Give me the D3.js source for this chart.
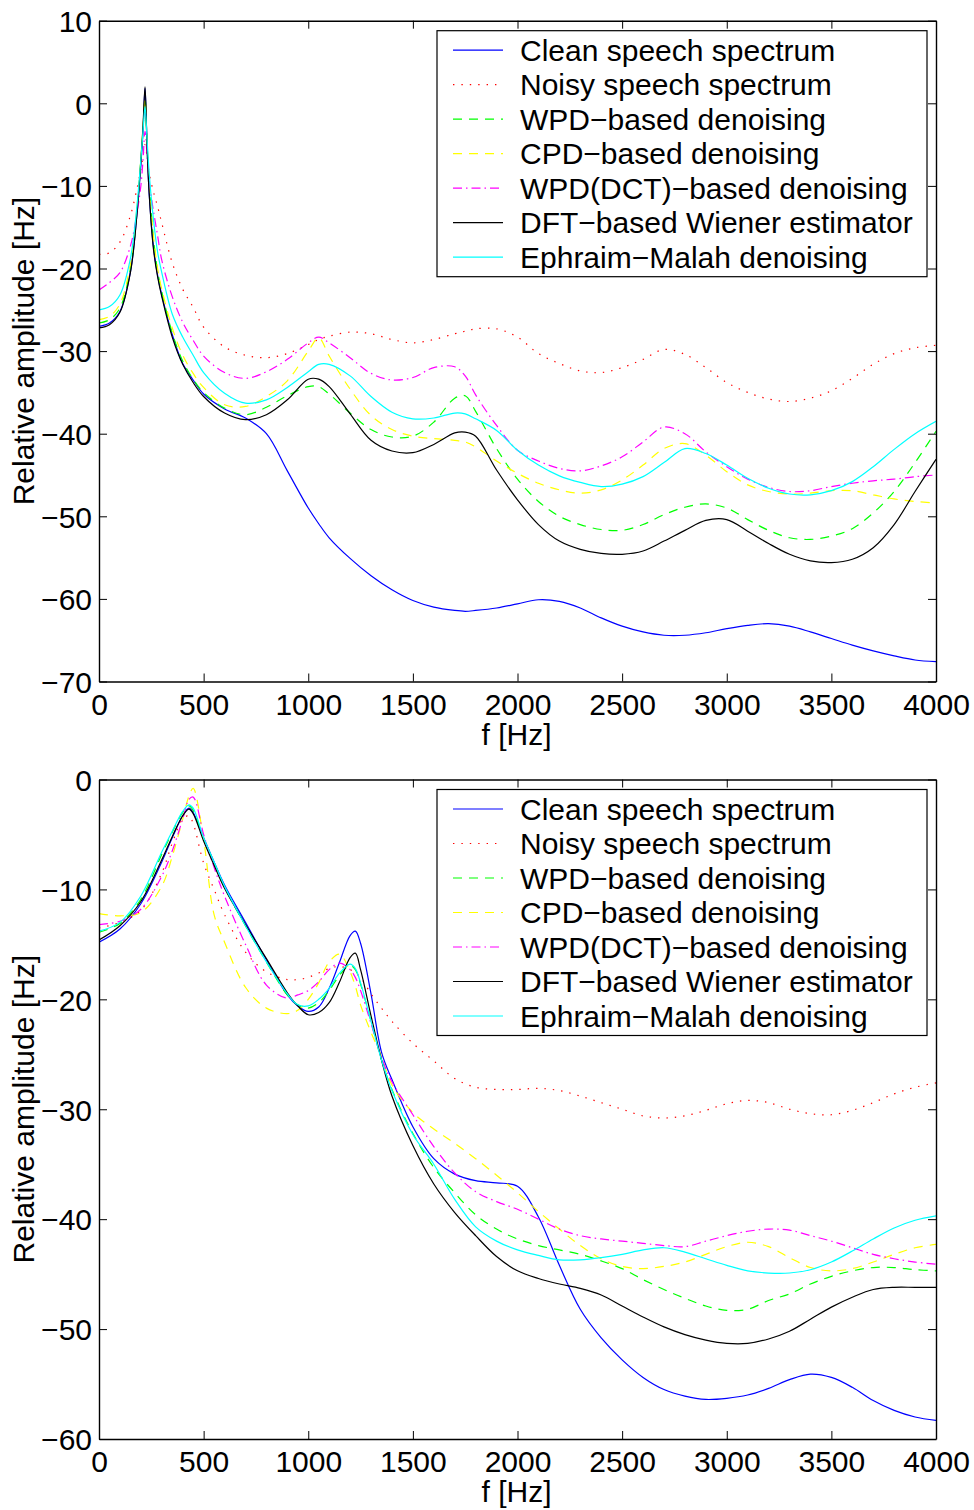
<!DOCTYPE html>
<html><head><meta charset="utf-8">
<script src="https://cdn.jsdelivr.net/npm/d3@7"></script>
<style>
body{margin:0;background:#fff}
svg text{font-family:"Liberation Sans",Arial,Helvetica,sans-serif;font-size:30px;fill:#000}
</style>
</head><body>
<svg id="chart" width="974" height="1510"></svg>
<script>
// ---------- DATA ----------
const seriesNames = ["Clean speech spectrum","Noisy speech spectrum","WPD\u2212based denoising","CPD\u2212based denoising","WPD(DCT)\u2212based denoising","DFT\u2212based Wiener estimator","Ephraim\u2212Malah denoising"];
const xTickValues = [0,500,1000,1500,2000,2500,3000,3500,4000];
const yTickValuesTop = [10,0,-10,-20,-30,-40,-50,-60,-70];
const yTickValuesBottom = [0,-10,-20,-30,-40,-50,-60];

const freqTop = [0,50,100,150,180,200,210,220,230,240,260,280,300,350,400,450,500,600,700,800,900,1000,1050,1100,1200,1300,1400,1500,1600,1700,1750,1800,1900,2000,2100,2200,2300,2400,2500,2600,2700,2800,2900,3000,3100,3200,3300,3400,3500,3600,3700,3800,3900,4000];
const cleanTop = [-27.0,-26.6,-25.2,-20.4,-13.8,-7.5,-3.5,1.8,-5.5,-11.0,-17.3,-20.8,-23.2,-28.0,-31.5,-33.5,-35.2,-37.0,-38.1,-40.0,-44.5,-49.0,-50.9,-52.6,-55.1,-57.2,-58.9,-60.2,-61.0,-61.4,-61.5,-61.4,-61.1,-60.6,-60.1,-60.3,-61.1,-62.3,-63.3,-64.0,-64.4,-64.4,-64.1,-63.6,-63.2,-63.0,-63.3,-64.0,-64.8,-65.6,-66.3,-66.9,-67.4,-67.6];
const noisyTop = [-18.3,-18.1,-16.8,-13.6,-10.5,-8.0,-6.5,-5.0,-6.5,-8.5,-10.7,-12.5,-14.5,-19.3,-22.5,-24.7,-27.1,-29.5,-30.5,-30.8,-30.3,-29.2,-28.6,-28.2,-27.7,-27.9,-28.6,-29.0,-28.6,-27.9,-27.6,-27.3,-27.3,-28.3,-30.3,-31.5,-32.4,-32.6,-32.0,-31.0,-29.8,-30.4,-32.0,-33.8,-35.0,-35.8,-36.1,-35.7,-34.8,-33.3,-31.6,-30.3,-29.6,-29.3];
const wpdTop = [-26.6,-26.2,-24.8,-20.0,-13.5,-7.0,-3.5,0.5,-5.0,-9.8,-16.3,-20.3,-22.8,-27.8,-31.2,-33.4,-35.0,-36.9,-37.7,-36.8,-35.4,-34.3,-34.3,-35.2,-37.5,-39.5,-40.4,-40.3,-38.6,-35.7,-35.4,-37.3,-41.8,-45.5,-48.2,-50.0,-51.0,-51.6,-51.7,-51.0,-49.8,-48.9,-48.5,-49.0,-50.4,-51.7,-52.6,-52.8,-52.4,-51.5,-49.6,-47.0,-43.5,-39.7];
const cpdTop = [-26.2,-25.8,-24.3,-19.5,-13.0,-6.5,-3.0,0.5,-5.0,-9.5,-16.0,-20.0,-22.5,-27.2,-30.5,-32.7,-34.4,-36.5,-36.7,-35.5,-33.6,-30.0,-28.4,-30.6,-34.6,-37.8,-39.5,-40.3,-40.6,-40.8,-41.0,-41.6,-43.3,-44.8,-46.0,-46.8,-47.2,-46.8,-45.6,-43.8,-41.8,-41.2,-42.6,-44.6,-46.2,-47.0,-47.3,-47.2,-46.9,-46.9,-47.4,-47.9,-48.2,-48.4];
const wpdDctTop = [-22.6,-21.7,-20.5,-17.3,-13.5,-10.0,-7.0,-3.4,-6.5,-9.5,-13.0,-16.0,-19.0,-23.4,-26.5,-28.7,-30.6,-32.6,-33.3,-32.5,-31.0,-29.0,-28.3,-29.0,-30.8,-32.7,-33.5,-33.2,-32.0,-31.9,-33.0,-35.3,-39.0,-42.0,-43.3,-44.2,-44.5,-43.9,-42.8,-41.0,-39.2,-40.0,-42.2,-44.0,-45.5,-46.5,-47.0,-46.9,-46.4,-46.0,-45.7,-45.5,-45.2,-45.0];
const dftTop = [-27.2,-26.8,-25.3,-20.5,-13.8,-7.0,-3.0,2.0,-5.5,-11.0,-17.6,-21.0,-23.4,-28.3,-31.6,-33.8,-35.5,-37.5,-38.3,-37.7,-35.9,-33.4,-33.4,-34.3,-37.6,-40.8,-42.1,-42.3,-41.3,-39.9,-39.8,-40.3,-44.4,-48.0,-51.0,-53.0,-54.0,-54.5,-54.6,-54.2,-53.0,-51.7,-50.5,-50.4,-51.8,-53.3,-54.6,-55.4,-55.6,-55.2,-53.8,-51.0,-47.0,-43.1];
const emTop = [-25.0,-24.6,-23.2,-18.8,-12.8,-6.8,-3.5,-0.4,-4.5,-8.5,-14.0,-18.0,-20.5,-25.5,-28.3,-30.5,-32.6,-35.1,-36.3,-35.9,-34.4,-32.5,-31.6,-31.6,-33.0,-35.5,-37.4,-38.2,-38.1,-37.5,-37.6,-38.2,-39.6,-42.0,-43.8,-45.1,-45.9,-46.4,-46.1,-45.2,-43.5,-41.8,-42.4,-43.8,-45.4,-46.6,-47.3,-47.4,-46.9,-45.8,-44.0,-41.9,-40.0,-38.5];

const freqBottom = [0,100,200,300,350,400,430,450,500,550,600,700,800,900,950,1000,1050,1100,1150,1200,1225,1250,1300,1350,1400,1500,1600,1700,1800,1900,2000,2100,2200,2300,2400,2500,2600,2700,2800,2900,3000,3100,3200,3300,3400,3500,3600,3700,3800,3900,4000];
const cleanBottom = [-14.8,-13.6,-11.3,-7.5,-5.3,-3.3,-2.6,-3.0,-5.3,-7.5,-9.6,-13.0,-16.4,-19.6,-20.6,-21.1,-20.7,-19.0,-16.6,-14.2,-13.8,-14.9,-19.5,-24.8,-27.3,-31.6,-34.5,-35.9,-36.5,-36.7,-37.0,-39.8,-44.2,-48.2,-50.8,-52.8,-54.4,-55.5,-56.1,-56.4,-56.3,-56.0,-55.4,-54.6,-54.1,-54.4,-55.3,-56.5,-57.4,-58.0,-58.3];
const noisyBottom = [-13.5,-13.0,-11.9,-8.5,-5.8,-3.6,-3.3,-4.0,-7.6,-10.0,-12.3,-15.7,-17.5,-18.2,-18.2,-18.0,-17.6,-17.2,-17.0,-17.3,-17.6,-18.0,-19.5,-20.8,-22.0,-24.0,-25.6,-27.2,-28.0,-28.2,-28.2,-28.1,-28.3,-28.8,-29.4,-30.0,-30.6,-30.8,-30.6,-30.1,-29.5,-29.2,-29.4,-30.0,-30.4,-30.5,-30.1,-29.4,-28.6,-28.0,-27.6];
const wpdBottom = [-13.9,-13.1,-10.9,-6.8,-4.8,-3.0,-2.4,-2.8,-5.4,-7.6,-9.8,-13.3,-16.6,-19.6,-20.5,-20.8,-20.3,-19.2,-17.8,-16.9,-17.3,-18.6,-22.0,-25.5,-28.2,-32.2,-35.3,-37.6,-39.6,-40.9,-41.8,-42.4,-42.8,-43.2,-43.8,-44.5,-45.5,-46.4,-47.2,-47.9,-48.3,-48.2,-47.4,-46.8,-45.9,-45.2,-44.7,-44.4,-44.4,-44.6,-44.7];
const cpdBottom = [-12.2,-12.4,-12.1,-9.7,-7.0,-3.6,-1.5,-0.8,-5.5,-12.3,-14.8,-18.9,-20.8,-21.3,-21.0,-20.0,-18.5,-16.6,-15.9,-17.5,-18.8,-20.5,-23.0,-25.2,-27.8,-30.3,-31.8,-33.1,-34.5,-36.0,-37.6,-39.3,-40.9,-42.4,-43.6,-44.3,-44.5,-44.3,-43.9,-43.2,-42.5,-42.1,-42.5,-43.5,-44.4,-44.7,-44.5,-43.9,-43.2,-42.6,-42.3];
const wpdDctBottom = [-13.2,-12.9,-11.8,-8.8,-6.5,-3.6,-1.8,-1.6,-5.0,-8.0,-10.6,-15.0,-18.7,-19.9,-19.6,-19.2,-18.4,-17.3,-16.7,-17.3,-18.0,-19.2,-22.2,-25.3,-27.5,-30.5,-33.4,-35.8,-37.5,-38.4,-39.1,-40.0,-40.9,-41.5,-41.8,-42.0,-42.2,-42.4,-42.5,-42.0,-41.5,-41.1,-40.9,-41.0,-41.5,-42.0,-42.6,-43.2,-43.6,-43.9,-44.1];
const dftBottom = [-14.6,-13.3,-11.1,-7.3,-5.2,-3.3,-2.7,-3.1,-5.6,-7.8,-9.9,-13.2,-16.3,-19.4,-20.6,-21.4,-21.2,-20.3,-18.4,-16.2,-15.8,-17.3,-21.5,-25.5,-28.8,-33.3,-36.8,-39.4,-41.5,-43.4,-44.7,-45.4,-45.9,-46.3,-46.9,-47.9,-48.9,-49.8,-50.5,-51.0,-51.3,-51.3,-50.9,-50.2,-49.1,-48.0,-47.1,-46.4,-46.2,-46.2,-46.2];
const emBottom = [-13.8,-13.0,-10.6,-6.6,-4.7,-2.9,-2.3,-2.6,-5.3,-7.5,-9.7,-13.3,-16.6,-19.5,-20.5,-20.6,-20.0,-19.0,-17.6,-16.8,-17.2,-18.5,-22.0,-25.5,-28.3,-32.3,-35.0,-38.2,-40.7,-42.0,-42.8,-43.3,-43.7,-43.7,-43.5,-43.2,-42.8,-42.6,-43.0,-43.6,-44.2,-44.7,-44.9,-44.9,-44.6,-43.9,-42.9,-41.8,-40.8,-40.1,-39.7];

// ---------- STYLES ----------
const styles = [
  {color:"#0000ff", dash:null},
  {color:"#ff0000", dash:"1.4,7"},
  {color:"#00ff00", dash:"9,7"},
  {color:"#ffff00", dash:"9,7"},
  {color:"#ff00ff", dash:"9,4,1.5,4"},
  {color:"#000000", dash:null},
  {color:"#00ffff", dash:null}
];

const svg = d3.select("#chart");
const X0 = 99, X1 = 936;

function panel(id, top, bottom, yDomain, yTicks, freqs, seriesList) {
  const x = d3.scaleLinear().domain([0,4000]).range([X0, X1]);
  const y = d3.scaleLinear().domain(yDomain).range([bottom, top]);
  const g = svg.append("g");

  svg.append("clipPath").attr("id", id).append("rect")
    .attr("x", X0).attr("y", top).attr("width", X1 - X0).attr("height", bottom - top);

  const line = d3.line().x(d => x(d[0])).y(d => y(d[1])).curve(d3.curveCatmullRom.alpha(0.5));
  const plot = g.append("g").attr("clip-path", `url(#${id})`);
  seriesList.forEach((vals, i) => {
    const pts = freqs.map((f, k) => [f, vals[k]]);
    plot.append("path").datum(pts).attr("d", line)
      .attr("fill", "none").attr("stroke", styles[i].color)
      .attr("stroke-width", 1.2)
      .attr("stroke-dasharray", styles[i].dash);
  });

  const styleAxis = a => {
    a.select(".domain").attr("stroke", "#000").attr("stroke-width", 1.4);
    a.selectAll(".tick line").attr("stroke", "#000").attr("stroke-width", 1);
    a.selectAll("text").style("font-size", "30px").style("font-family", '"Liberation Sans",Arial,sans-serif').attr("fill", "#000");
  };

  const ax = g.append("g").attr("transform", `translate(0,${bottom})`)
    .call(d3.axisBottom(x).tickValues(xTickValues).tickSizeInner(-8).tickSizeOuter(0).tickPadding(12).tickFormat(d3.format("d")));
  styleAxis(ax);
  const axT = g.append("g").attr("transform", `translate(0,${top})`)
    .call(d3.axisTop(x).tickValues(xTickValues).tickSizeInner(-8).tickSizeOuter(0).tickFormat(""));
  styleAxis(axT);
  const ay = g.append("g").attr("transform", `translate(${X0},0)`)
    .call(d3.axisLeft(y).tickValues(yTicks).tickSizeInner(-8).tickSizeOuter(0).tickPadding(7));
  styleAxis(ay);
  ay.selectAll("text").attr("dy", "0.36em");
  const ayR = g.append("g").attr("transform", `translate(${X1},0)`)
    .call(d3.axisRight(y).tickValues(yTicks).tickSizeInner(-8).tickSizeOuter(0).tickFormat(""));
  styleAxis(ayR);

  // axis titles
  g.append("text").attr("x", (X0 + X1) / 2 - 1).attr("y", bottom + 63)
    .attr("text-anchor", "middle").text("f [Hz]");
  g.append("text").attr("transform", `translate(34,${(top + bottom) / 2}) rotate(-90)`)
    .attr("text-anchor", "middle").text("Relative amplitude [Hz]");

  // legend
  const lg = g.append("g").attr("transform", `translate(437,${top + 10})`);
  lg.append("rect").attr("x", 0).attr("y", 0).attr("width", 490).attr("height", 246)
    .attr("fill", "#fff").attr("stroke", "#000").attr("stroke-width", 1.2);
  seriesNames.forEach((name, i) => {
    const cy = 19.5 + i * 34.5;
    lg.append("line").attr("x1", 16).attr("x2", 66).attr("y1", cy).attr("y2", cy)
      .attr("stroke", styles[i].color).attr("stroke-width", 1.2)
      .attr("stroke-dasharray", styles[i].dash);
    lg.append("text").attr("x", 83).attr("y", cy).attr("dy", "0.36em").text(name);
  });
}

panel("clipTop", 20.7, 681.5, [-70, 10], yTickValuesTop, freqTop,
  [cleanTop, noisyTop, wpdTop, cpdTop, wpdDctTop, dftTop, emTop]);
panel("clipBottom", 779.5, 1439, [-60, 0], yTickValuesBottom, freqBottom,
  [cleanBottom, noisyBottom, wpdBottom, cpdBottom, wpdDctBottom, dftBottom, emBottom]);
</script>
</body></html>
